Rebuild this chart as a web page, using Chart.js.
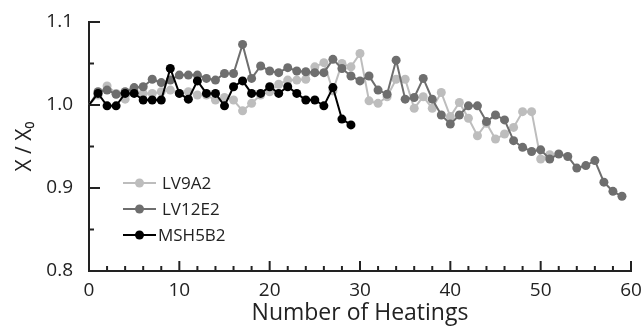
<!DOCTYPE html>
<html>
<head>
<meta charset="utf-8">
<script src="https://cdn.jsdelivr.net/npm/chart.js@4"></script>
<style>
  html, body { margin: 0; padding: 0; background: #ffffff; }
  #wrap { width: 644px; height: 327px; position: relative; }
</style>
</head>
<body>
<div id="wrap"><canvas id="c" width="644" height="327"></canvas></div>
<script>
// ---- data ----
const seriesNames = ["LV9A2", "LV12E2", "MSH5B2"];
const seriesColors = ["#bdbdbd", "#6e6e6e", "#000000"];

// value per heating number, starting at heating 0
const lv9a2 = [1.000, 1.012, 1.023, 1.014, 1.007, 1.016, 1.014, 1.014, 1.016, 1.018,
  1.014, 1.016, 1.012, 1.012, 1.006, 1.009, 1.006, 0.993, 1.002, 1.012,
  1.016, 1.025, 1.030, 1.030, 1.031, 1.046, 1.051, 1.017, 1.050, 1.046,
  1.062, 1.005, 1.002, 1.010, 1.031, 1.031, 0.996, 1.010, 0.996, 1.015,
  0.986, 1.003, 0.984, 0.963, 0.978, 0.959, 0.965, 0.973, 0.992, 0.992,
  0.935, 0.940];

const lv12e2 = [1.000, 1.016, 1.018, 1.013, 1.016, 1.021, 1.022, 1.031, 1.027, 1.030,
  1.036, 1.036, 1.036, 1.032, 1.030, 1.038, 1.038, 1.073, 1.032, 1.047,
  1.041, 1.039, 1.045, 1.041, 1.040, 1.039, 1.039, 1.055, 1.044, 1.035,
  1.029, 1.035, 1.018, 1.013, 1.054, 1.007, 1.009, 1.032, 1.007, 0.988,
  0.977, 0.988, 0.999, 0.999, 0.980, 0.988, 0.982, 0.957, 0.949, 0.944,
  0.946, 0.935, 0.941, 0.938, 0.924, 0.927, 0.933, 0.907, 0.896, 0.890];

const msh5b2 = [1.000, 1.014, 0.999, 0.999, 1.014, 1.014, 1.006, 1.006, 1.006, 1.044,
  1.014, 1.007, 1.029, 1.014, 1.014, 0.999, 1.022, 1.029, 1.014, 1.014,
  1.022, 1.014, 1.022, 1.014, 1.006, 1.006, 0.999, 1.021, 0.983, 0.976];

const xTickLabels = [0, 10, 20, 30, 40, 50, 60];
const yTickLabels = [0.8, 0.9, 1.0, 1.1];
const xTitle = "Number of Heatings";
const yTitle = "X / X\u2080";

// ---- chart ----
const FONT = "'Open Sans', 'DejaVu Sans', sans-serif";
const allSeries = [lv9a2, lv12e2, msh5b2];
const drawOrder = [2, 1, 0]; // lower is drawn on top

const datasets = allSeries.map((vals, k) => ({
  label: seriesNames[k],
  data: vals.map((v, i) => ({ x: i, y: v })),
  borderColor: seriesColors[k],
  backgroundColor: seriesColors[k],
  pointBackgroundColor: seriesColors[k],
  pointBorderColor: seriesColors[k],
  borderWidth: 2,
  pointRadius: vals.map((v, i) => (i === 0 ? 0 : 4.5)),
  pointBorderWidth: 0,
  tension: 0,
  order: drawOrder[k],
  clip: false
}));

// inward tick marks and in-plot legend
const decorations = {
  id: 'decorations',
  afterDraw(chart) {
    const ctx = chart.ctx;
    const xs = chart.scales.x, ys = chart.scales.y;
    const left = chart.chartArea.left, bottom = chart.chartArea.bottom;
    ctx.save();
    ctx.strokeStyle = '#222';
    ctx.lineWidth = 2;
    // x ticks: minor every 2, major every 10
    for (let v = xs.min; v <= xs.max; v += 2) {
      const px = xs.getPixelForValue(v);
      const len = (v % 10 === 0) ? 10 : 5;
      ctx.beginPath(); ctx.moveTo(px, bottom); ctx.lineTo(px, bottom - len); ctx.stroke();
    }
    // y ticks: minor every 0.05, major every 0.1
    for (let k = 0; k <= 6; k++) {
      const v = ys.min + k * 0.05;
      const py = ys.getPixelForValue(v);
      const len = (k % 2 === 0) ? 11 : 5;
      ctx.beginPath(); ctx.moveTo(left, py); ctx.lineTo(left + len, py); ctx.stroke();
    }
    // legend
    const lx0 = 123, lx1 = 156, rows = [183, 209, 235];
    ctx.font = "17px " + FONT;
    ctx.textBaseline = 'middle';
    chart.data.datasets.forEach((ds, k) => {
      const y = rows[k];
      ctx.strokeStyle = ds.borderColor;
      ctx.fillStyle = ds.borderColor;
      ctx.lineWidth = 2;
      ctx.beginPath(); ctx.moveTo(lx0, y); ctx.lineTo(lx1, y); ctx.stroke();
      ctx.beginPath(); ctx.arc((lx0 + lx1) / 2, y, 4.5, 0, Math.PI * 2); ctx.fill();
      ctx.fillStyle = '#222';
      ctx.fillText(ds.label, k === 2 ? 158 : 162, y + 1);
    });
    ctx.restore();
  }
};

new Chart(document.getElementById('c'), {
  type: 'line',
  data: { datasets },
  options: {
    responsive: false,
    animation: false,
    devicePixelRatio: 1,
    layout: { padding: { top: 22, right: 13, left: 0, bottom: 0 } },
    plugins: { legend: { display: false }, tooltip: { enabled: false } },
    scales: {
      x: {
        type: 'linear',
        min: 0, max: 60,
        afterBuildTicks(scale) { scale.ticks = xTickLabels.map(v => ({ value: v })); },
        afterFit(scale) { scale.height = 56; },
        grid: { display: false },
        border: { display: true, color: '#222', width: 2 },
        ticks: { color: '#222', font: { family: FONT, size: 19 }, padding: 0, maxRotation: 0,
                 callback: v => String(v) },
        title: { display: true, text: xTitle, color: '#222', font: { family: FONT, size: 23 }, padding: { top: 0, bottom: 0 } }
      },
      y: {
        type: 'linear',
        min: 0.8, max: 1.1,
        afterBuildTicks(scale) { scale.ticks = yTickLabels.map(v => ({ value: v })); },
        afterFit(scale) { scale.width = 89; },
        grid: { display: false },
        border: { display: true, color: '#222', width: 2 },
        ticks: { color: '#222', font: { family: FONT, size: 19 }, padding: 8,
                 callback: v => Number(v).toFixed(1) },
        title: { display: true, text: yTitle, color: '#222', font: { family: FONT, size: 21 }, padding: { top: 12, bottom: 0 } }
      }
    }
  },
  plugins: [decorations]
});
</script>
</body>
</html>
